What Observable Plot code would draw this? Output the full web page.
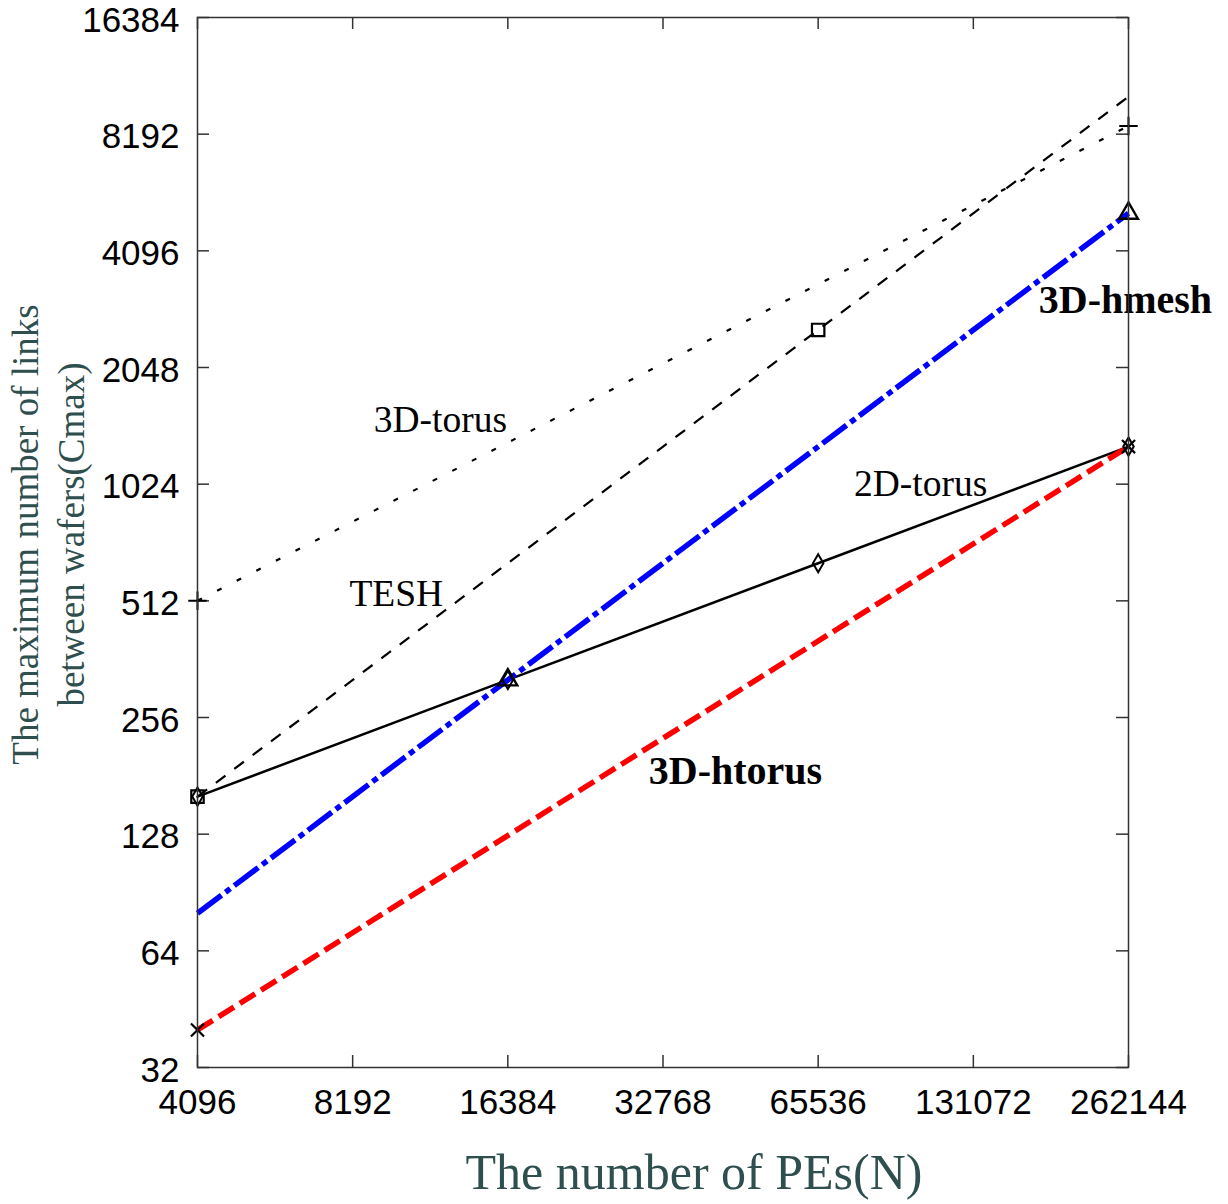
<!DOCTYPE html>
<html>
<head>
<meta charset="utf-8">
<script src="https://cdn.jsdelivr.net/npm/d3@7"></script>
<script src="https://cdn.jsdelivr.net/npm/@observablehq/plot@0.6"></script>
<style>
  html, body { margin: 0; padding: 0; background: #fff; }
  #chart svg { display: block; }
</style>
</head>
<body>
<div id="chart"></div>
<script>
// ---- data ----
const xTicks = [4096, 8192, 16384, 32768, 65536, 131072, 262144];
const yTicks = [32, 64, 128, 256, 512, 1024, 2048, 4096, 8192, 16384];

const torus3dN = [4096, 262144];
const torus3dC = [512, 8600];

const teshN = [4096, 16384, 65536, 262144];
const teshC = [160, 640, 2560, 10240];
const teshMarkerIdx = [0, 2];

const torus2dN = [4096, 16384, 65536, 262144];
const torus2dC = [160, 320, 640, 1280];
const torus2dMarkerIdx = [0, 1, 2, 3];

const hmeshN = [4096, 16384, 65536, 262144];
const hmeshC = [80, 320, 1280, 5120];
const hmeshMarkerIdx = [1, 3];

const htorusN = [4096, 262144];
const htorusC = [40, 1280];

const labelText = ["3D-torus", "TESH", "2D-torus", "3D-hmesh", "3D-htorus"];
const labelN = [12125, 9955, 103600, 258600, 45300];
const labelC = [1495, 532, 1022, 3053, 186];
const labelBold = [false, false, false, true, true];

// ---- build ----
const pts = (N, C) => N.map((n, i) => ({n, c: C[i]}));
const pick = (arr, idx) => idx.map(i => arr[i]);

const torus3d = pts(torus3dN, torus3dC);
const tesh = pts(teshN, teshC);
const torus2d = pts(torus2dN, torus2dC);
const hmesh = pts(hmeshN, hmeshC);
const htorus = pts(htorusN, htorusC);
const labels = labelText.map((t, i) => ({t, n: labelN[i], c: labelC[i], bold: labelBold[i]}));

const W = 1228, H = 1204;
const mL = 197, mR = 100, mT = 17, mB = 137;
const innerW = W - mL - mR, innerH = H - mT - mB;
const tickLen = 12;
const axisColor = "#333";
const serif = "'Liberation Serif', 'Times New Roman', serif";

const chart = Plot.plot({
  width: W,
  height: H,
  marginLeft: mL,
  marginRight: mR,
  marginTop: mT,
  marginBottom: mB,
  style: {fontFamily: "'Liberation Sans', Arial, sans-serif", fontSize: "35px", background: "#fff", color: "#000", overflow: "visible"},
  x: {type: "log", base: 2, domain: [4096, 262144]},
  y: {type: "log", base: 2, domain: [32, 16384]},
  marks: [
    Plot.axisX(xTicks, {tickFormat: d => String(d), tickSize: 0, tickPadding: 22, label: null}),
    Plot.axisY(yTicks, {tickFormat: d => String(d), tickSize: 0, tickPadding: 18, dy: 3, label: null}),

    // inward ticks on all four sides
    Plot.tickX(xTicks, {x: d => d, insetTop: innerH - tickLen, stroke: axisColor, strokeWidth: 1.5}),
    Plot.tickX(xTicks, {x: d => d, insetBottom: innerH - tickLen, stroke: axisColor, strokeWidth: 1.5}),
    Plot.tickY(yTicks, {y: d => d, insetRight: innerW - tickLen, stroke: axisColor, strokeWidth: 1.5}),
    Plot.tickY(yTicks, {y: d => d, insetLeft: innerW - tickLen, stroke: axisColor, strokeWidth: 1.5}),

    // lines
    Plot.line(torus3d, {x: "n", y: "c", stroke: "#000", strokeWidth: 2.2, strokeLinecap: "butt", strokeDasharray: "5,17"}),
    Plot.line(tesh, {x: "n", y: "c", stroke: "#000", strokeWidth: 2.2, strokeLinecap: "butt", strokeDasharray: "12,11"}),
    Plot.line(torus2d, {x: "n", y: "c", stroke: "#000", strokeWidth: 2.5}),
    Plot.line(hmesh, {x: "n", y: "c", stroke: "#0000ff", strokeWidth: 5.5, strokeLinecap: "butt", strokeDasharray: "30,5,6,5"}),
    Plot.line(htorus, {x: "n", y: "c", stroke: "#ff0000", strokeWidth: 5.5, strokeLinecap: "butt", strokeDasharray: "18,7"}),

    // markers
    Plot.dot(torus3d, {x: "n", y: "c", symbol: "plus", r: 6, stroke: "#000", strokeWidth: 2}),
    Plot.dot(pick(tesh, teshMarkerIdx), {x: "n", y: "c", symbol: "square", r: 7, stroke: "#000", fill: "none", strokeWidth: 2.2}),
    Plot.dot(pick(torus2d, torus2dMarkerIdx), {x: "n", y: "c", symbol: "diamond", r: 5.5, stroke: "#000", fill: "none", strokeWidth: 2}),
    Plot.dot(pick(hmesh, hmeshMarkerIdx), {x: "n", y: "c", symbol: "triangle", r: 7, stroke: "#000", fill: "none", strokeWidth: 2.4}),
    Plot.dot(htorus, {x: "n", y: "c", symbol: "times", r: 6, stroke: "#000", strokeWidth: 2.2}),

    // series labels
    Plot.text(labels.filter(d => !d.bold), {x: "n", y: "c", text: "t", fontFamily: serif, fontSize: 37.5, fill: "#000"}),
    Plot.text(labels.filter(d => d.bold), {x: "n", y: "c", text: "t", fontFamily: serif, fontSize: 40, fontWeight: "bold", fill: "#000"}),

    // axis titles
    Plot.text(["The number of PEs(N)"], {frameAnchor: "bottom", textAnchor: "middle", dx: 31, dy: 121, fontFamily: serif, fontSize: 50, fill: "#2F4F4F"}),
    Plot.text(["The maximum number of links\nbetween wafers(Cmax)"], {frameAnchor: "left", textAnchor: "middle", rotate: -90, dx: -151, dy: -8, lineHeight: 1.22, fontFamily: serif, fontSize: 37, fill: "#2F4F4F"}),

    Plot.frame({stroke: axisColor, strokeWidth: 1.5})
  ]
});

document.getElementById("chart").appendChild(chart);
</script>
</body>
</html>
